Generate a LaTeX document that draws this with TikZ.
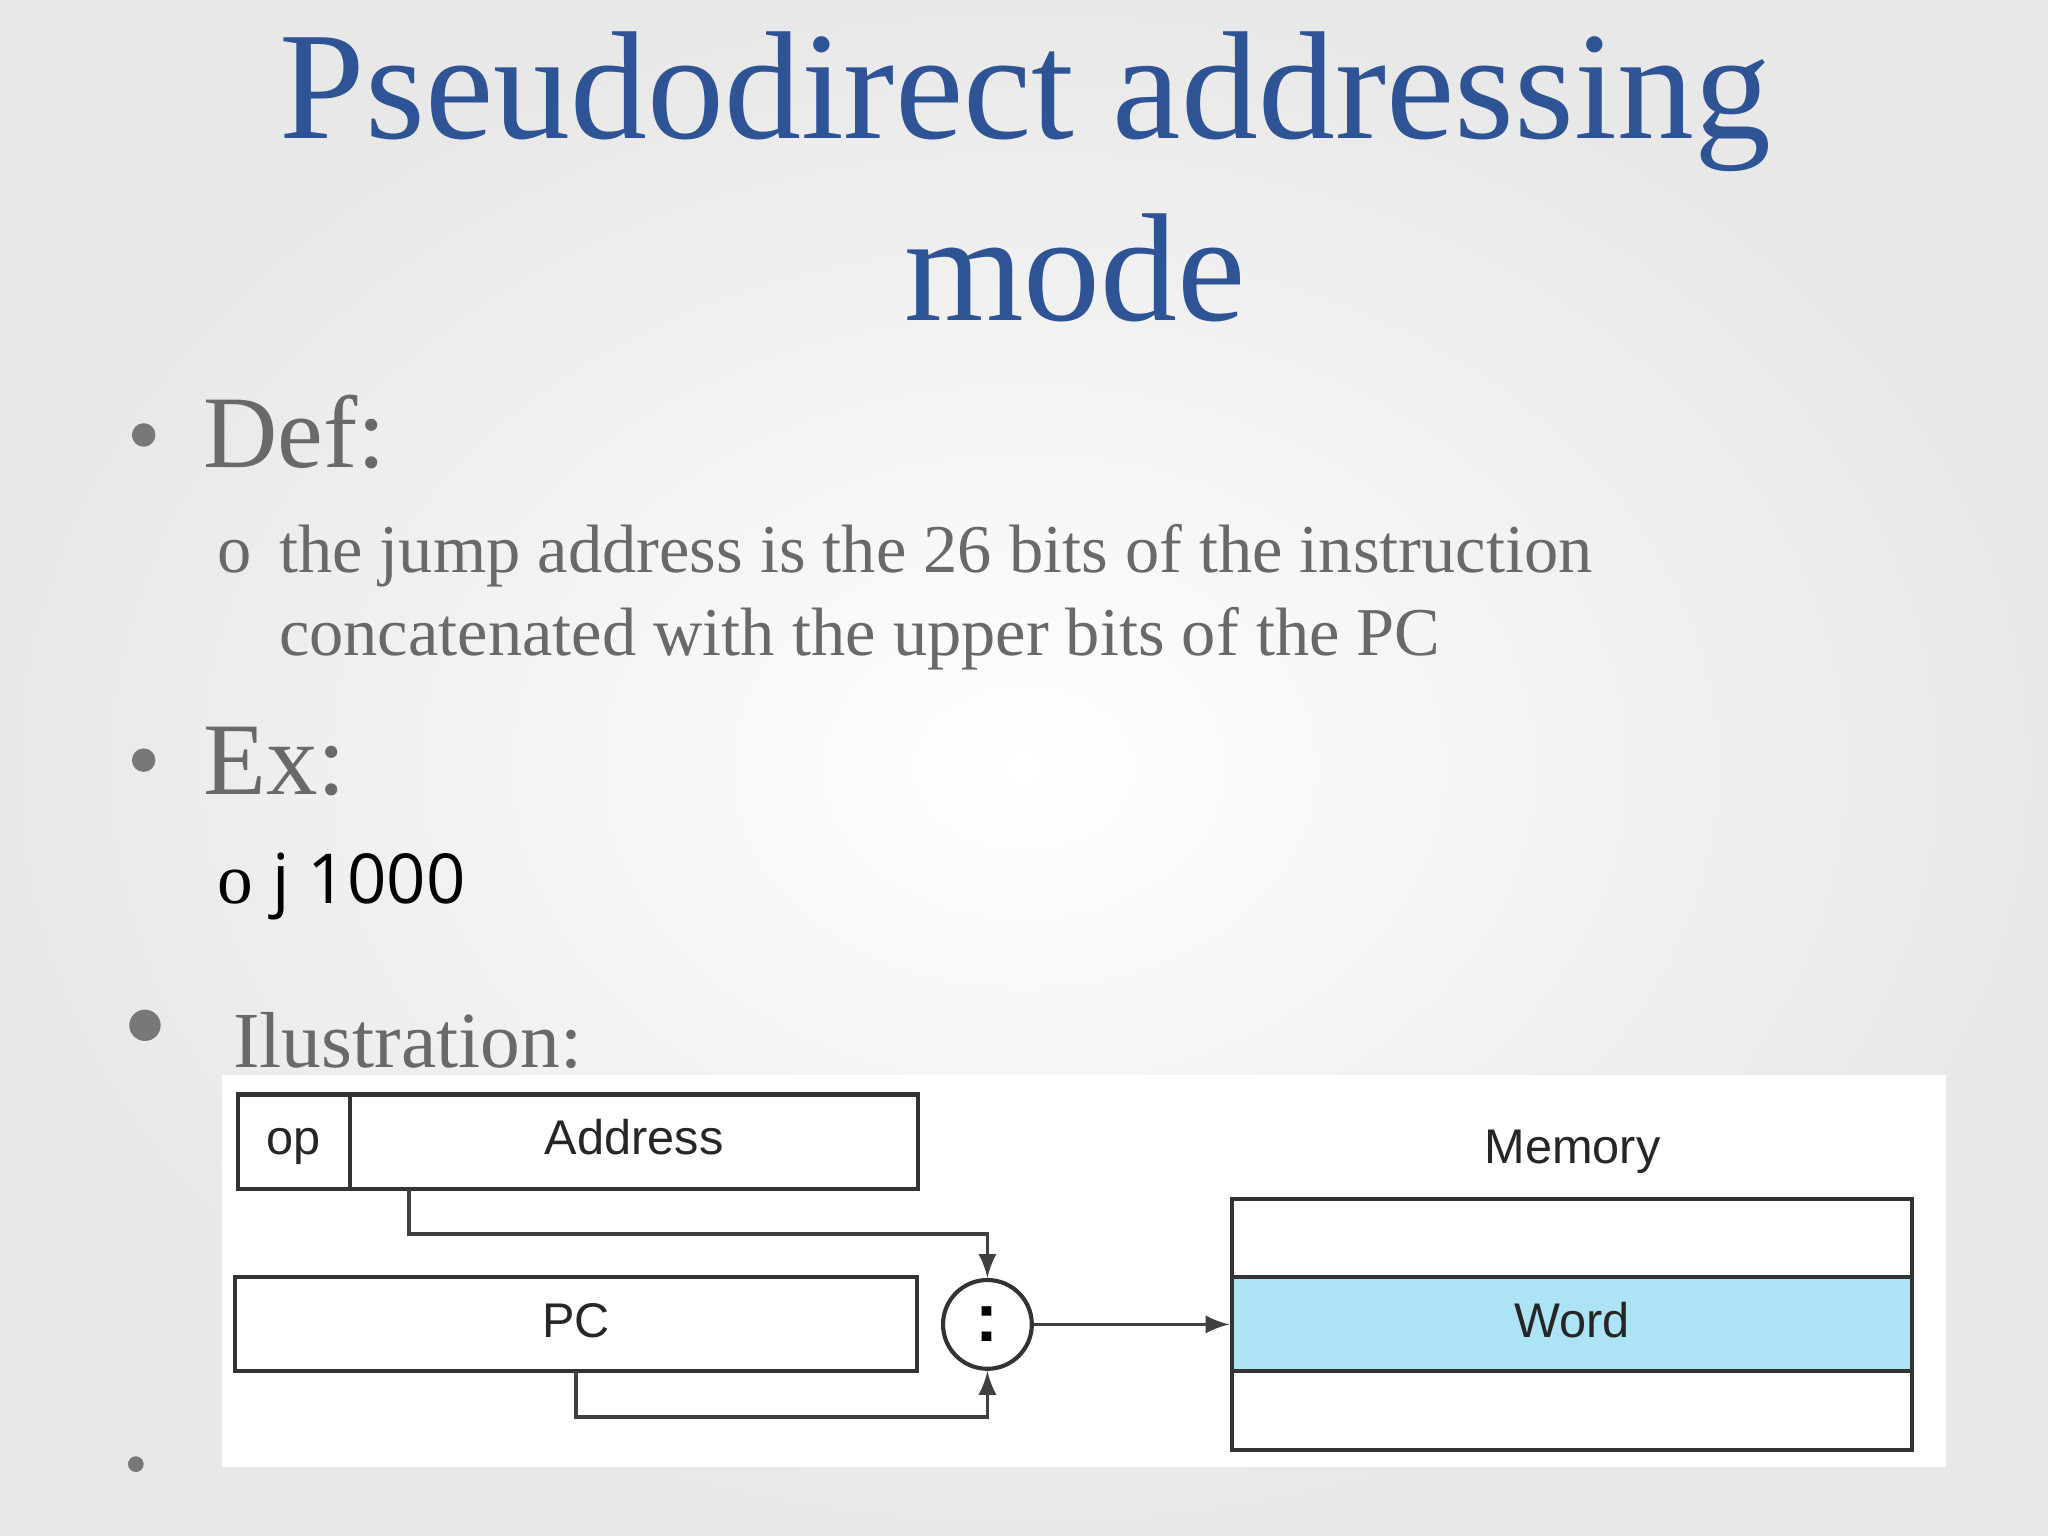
\documentclass[tikz,border=0pt]{standalone}
\usepackage{fontspec}
\setmainfont{Liberation Serif}
\setsansfont{Liberation Sans}
\newfontfamily\osans{Open Sans}
\definecolor{ttl}{RGB}{46,84,150}
\definecolor{txt}{RGB}{105,105,105}
\definecolor{wordc}{RGB}{173,228,245}
\definecolor{bul}{RGB}{120,120,120}
\begin{document}
\begin{tikzpicture}[x=0.01cm,y=-0.01cm,
  every node/.style={inner sep=0},
  box/.style={draw=black!80,line width=0.9pt,inner sep=0,text height=1.5ex,text depth=0.3ex},
  conn/.style={draw=black!75,line width=0.8pt},
  dtext/.style={font=\sffamily\fontsize{10.6}{12}\selectfont,text=black!85}]
\useasboundingbox (0,0) rectangle (1568,1176);
\shade[inner color=white,outer color=black!9] (0,0) rectangle (1568,1176);
\node[font=\fontsize{33.5}{36}\selectfont,text=ttl] (t1) at (785,78) {Pseudodirect addressing};
\node[font=\fontsize{33.5}{36}\selectfont,text=ttl] (t2) at (823,205) {mode};
\fill[bul] (110,333) circle (9);
\node[anchor=base west,font=\fontsize{22.4}{28}\selectfont,text=txt] (def) at (155,358) {Def:};
\node[anchor=base west,font=\fontsize{14.9}{17}\selectfont,text=txt] (o1) at (166,438) {o};
\node[anchor=base west,font=\fontsize{14.9}{17}\selectfont,text=txt] (l1) at (213,438) {the jump address is the 26 bits of the instruction};
\node[anchor=base west,font=\fontsize{14.9}{17}\selectfont,text=txt] (l2) at (213,502) {concatenated with the upper bits of the PC};
\fill[bul] (110,582) circle (9);
\node[anchor=base west,font=\fontsize{22.4}{28}\selectfont,text=txt] (ex) at (155,608) {Ex:};
\node[anchor=base west,font=\fontsize{15.5}{17}\selectfont,text=black] (o2) at (166,692) {o};
\node[anchor=base west,font=\osans\fontsize{15}{19}\selectfont,text=black] (j) at (208,692) {j 1000};
\fill[bul] (111,785) circle (12);
\node[anchor=base west,font=\fontsize{17.3}{22}\selectfont,text=txt] (ill) at (178,817) {Ilustration:};
\fill[bul] (104,1121) circle (6);
\fill[white] (170,823) rectangle (1490,1123);
% diagram
\node[box,minimum width=86*0.01cm,minimum height=72*0.01cm,dtext] (op) at (225,874) {op};
\node[box,minimum width=435*0.01cm,minimum height=72*0.01cm,dtext] (addr) at (485.5,874) {Address};
\node[box,minimum width=522*0.01cm,minimum height=72*0.01cm,dtext] (pc) at (441,1014) {PC};
\node[circle,draw=black!80,line width=0.9pt,minimum size=68*0.01cm,inner sep=0,font=\sffamily\bfseries\fontsize{15}{18}\selectfont] (cat) at (756,1014) {:};
\node[dtext] (memlbl) at (1204,882) {Memory};
\node[box,minimum width=521*0.01cm,minimum height=60*0.01cm] (m1) at (1203.5,948) {};
\node[box,fill=wordc,minimum width=521*0.01cm,minimum height=72*0.01cm,dtext] (word) at (1203.5,1014) {Word};
\node[box,minimum width=521*0.01cm,minimum height=60*0.01cm] (m3) at (1203.5,1080) {};
\coordinate (a1) at (313,910);
\coordinate (p1) at (441,1050);
\draw[conn,-latex] (a1) -- (313,945) -- (756,945) -- (cat.north);
\draw[conn,-latex] (p1) -- (441,1085) -- (756,1085) -- (cat.south);
\draw[conn,-latex] (cat.east) -- (word.west);
\end{tikzpicture}
\end{document}
